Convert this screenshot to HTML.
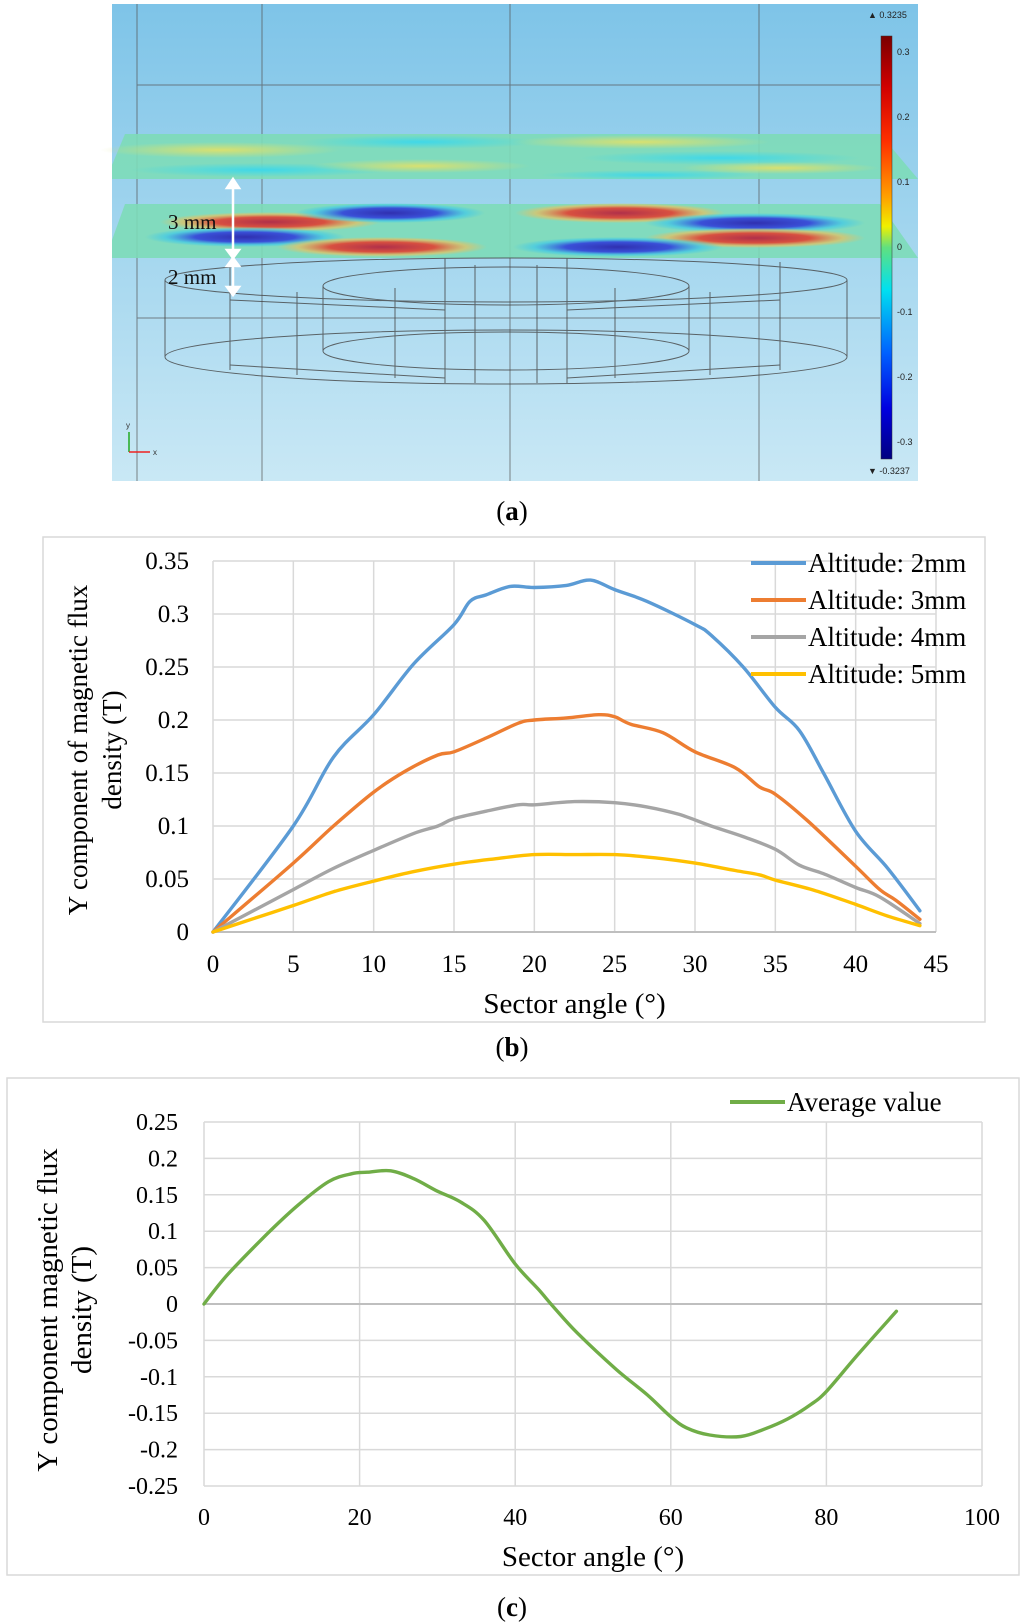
<!DOCTYPE html>
<html><head><meta charset="utf-8"><style>
html,body{margin:0;padding:0;background:#fff;}
svg{display:block;font-family:"Liberation Serif",serif;}
</style></head><body>
<svg id="root" width="1024" height="1622" viewBox="0 0 1024 1622">
<defs>
<linearGradient id="bg" x1="0" y1="0" x2="0" y2="1"><stop offset="0" stop-color="#7ec4e8"/><stop offset="1" stop-color="#c9e8f5"/></linearGradient>
<linearGradient id="cbar" x1="0" y1="0" x2="0" y2="1">
<stop offset="0" stop-color="#7a0000"/><stop offset="0.12" stop-color="#d00000"/><stop offset="0.25" stop-color="#ff3000"/><stop offset="0.38" stop-color="#ffa000"/><stop offset="0.45" stop-color="#f0f000"/><stop offset="0.5" stop-color="#60e080"/><stop offset="0.6" stop-color="#00e0f0"/><stop offset="0.75" stop-color="#0060ff"/><stop offset="0.88" stop-color="#0000e0"/><stop offset="1" stop-color="#000080"/></linearGradient>
<radialGradient id="red"><stop offset="0" stop-color="#b0304a"/><stop offset="0.5" stop-color="#d85040"/><stop offset="0.8" stop-color="#e8c060" stop-opacity="0.7"/><stop offset="1" stop-color="#e8c060" stop-opacity="0"/></radialGradient>
<radialGradient id="blue"><stop offset="0" stop-color="#3030b0"/><stop offset="0.5" stop-color="#3a50d8"/><stop offset="0.8" stop-color="#40c8e8" stop-opacity="0.7"/><stop offset="1" stop-color="#40c8e8" stop-opacity="0"/></radialGradient>
<radialGradient id="yel"><stop offset="0" stop-color="#d8e070"/><stop offset="1" stop-color="#d8e070" stop-opacity="0"/></radialGradient>
<radialGradient id="cyn"><stop offset="0" stop-color="#40d8e8"/><stop offset="1" stop-color="#40d8e8" stop-opacity="0"/></radialGradient>
</defs>

<!-- Panel (a) -->
<g>
<rect x="112" y="4" width="806" height="477" fill="url(#bg)"/>
<g stroke="#555" stroke-width="1" opacity="0.7">
<line x1="137" y1="4" x2="137" y2="481"/><line x1="262" y1="4" x2="262" y2="481"/>
<line x1="510" y1="4" x2="510" y2="481"/><line x1="759" y1="4" x2="759" y2="481"/>
<line x1="137" y1="85" x2="880" y2="85"/><line x1="137" y1="318" x2="880" y2="318"/>
</g>
<g>
<polygon points="125,134 880,134 918,179 112,179 112,165" fill="#7ddcb8" opacity="0.9"/>
<ellipse cx="220" cy="150" rx="120" ry="8" fill="url(#yel)"/>
<ellipse cx="420" cy="142" rx="120" ry="7" fill="url(#cyn)"/>
<ellipse cx="260" cy="170" rx="130" ry="7" fill="url(#cyn)"/>
<ellipse cx="420" cy="166" rx="110" ry="7" fill="url(#yel)"/>
<ellipse cx="640" cy="142" rx="130" ry="7" fill="url(#yel)"/>
<ellipse cx="720" cy="158" rx="140" ry="7" fill="url(#cyn)"/>
<ellipse cx="650" cy="175" rx="110" ry="5" fill="url(#cyn)"/>
<ellipse cx="780" cy="168" rx="100" ry="6" fill="url(#yel)"/>
</g>
<g>
<polygon points="125,204 880,204 918,258 112,258 112,240" fill="#7ddcb8" opacity="0.9"/>
<ellipse cx="270" cy="222" rx="110" ry="10" fill="url(#red)"/>
<ellipse cx="390" cy="213" rx="95" ry="10" fill="url(#blue)"/>
<ellipse cx="245" cy="237" rx="100" ry="10" fill="url(#blue)"/>
<ellipse cx="382" cy="247" rx="105" ry="10" fill="url(#red)"/>
<ellipse cx="620" cy="213" rx="105" ry="10" fill="url(#red)"/>
<ellipse cx="755" cy="223" rx="110" ry="10" fill="url(#blue)"/>
<ellipse cx="755" cy="238" rx="110" ry="10" fill="url(#red)"/>
<ellipse cx="618" cy="247" rx="105" ry="10" fill="url(#blue)"/>
</g>
<g fill="none" stroke="#444" stroke-width="1" opacity="0.8">
<ellipse cx="506" cy="280" rx="341" ry="22"/><ellipse cx="506" cy="357" rx="341" ry="27"/>
<ellipse cx="506" cy="286" rx="183" ry="19"/><ellipse cx="506" cy="351" rx="183" ry="19"/>
<line x1="165" y1="280" x2="165" y2="357"/><line x1="847" y1="280" x2="847" y2="357"/>
<line x1="323" y1="286" x2="323" y2="351"/><line x1="689" y1="286" x2="689" y2="351"/>
<line x1="445" y1="258" x2="445" y2="383"/><line x1="567" y1="258" x2="567" y2="383"/>
<line x1="297" y1="292" x2="297" y2="375"/><line x1="395" y1="288" x2="395" y2="378"/>
<line x1="615" y1="288" x2="615" y2="378"/><line x1="710" y1="292" x2="710" y2="375"/>
<line x1="230" y1="262" x2="230" y2="370"/><line x1="780" y1="262" x2="780" y2="370"/>
<line x1="475" y1="265" x2="475" y2="383"/><line x1="537" y1="265" x2="537" y2="383"/>
<line x1="230" y1="300" x2="445" y2="310"/><line x1="780" y1="300" x2="567" y2="310"/>
<line x1="230" y1="365" x2="445" y2="378"/><line x1="780" y1="365" x2="567" y2="378"/>
</g>
<g stroke="#fff" stroke-width="2.5" fill="#fff">
<line x1="233" y1="186" x2="233" y2="252"/><polygon points="227,188 239,188 233,179"/><polygon points="227,250 239,250 233,258"/>
<line x1="233" y1="264" x2="233" y2="289"/><polygon points="227,266 239,266 233,258"/><polygon points="227,287 239,287 233,295"/>
</g>
<text x="168" y="229" font-size="21" fill="#111">3 mm</text>
<text x="168" y="284" font-size="21" fill="#111">2 mm</text>
<g font-family="Liberation Sans,sans-serif" font-size="8">
<line x1="129" y1="452" x2="129" y2="432" stroke="#2a2" stroke-width="1.5"/><line x1="129" y1="452" x2="150" y2="452" stroke="#e22" stroke-width="1.5"/>
<text x="126" y="428" fill="#333">y</text><text x="153" y="455" fill="#333">x</text></g>
<g font-family="Liberation Sans,sans-serif" font-size="9" fill="#222">
<rect x="881" y="36" width="11" height="423" fill="url(#cbar)" stroke="#333" stroke-width="0.5"/>
<text x="868" y="18">▲ 0.3235</text><text x="868" y="474">▼ -0.3237</text>
<text x="897" y="55">0.3</text><text x="897" y="120">0.2</text><text x="897" y="185">0.1</text><text x="897" y="250">0</text>
<text x="897" y="315">-0.1</text><text x="897" y="380">-0.2</text><text x="897" y="445">-0.3</text>
</g>
</g>
<text x="512" y="520" font-size="27" text-anchor="middle">(<tspan font-weight="bold">a</tspan>)</text>

<!-- Chart (b) -->
<rect x="43" y="537" width="942" height="485" fill="#fff" stroke="#d9d9d9" stroke-width="1.5"/>
<g id="chartB"></g>
<text x="512" y="1056" font-size="27" text-anchor="middle">(<tspan font-weight="bold">b</tspan>)</text>

<!-- Chart (c) -->
<rect x="7" y="1078" width="1012" height="497" fill="#fff" stroke="#d9d9d9" stroke-width="1.5"/>
<g id="chartC"></g>
<text x="512" y="1616" font-size="27" text-anchor="middle">(<tspan font-weight="bold">c</tspan>)</text>
</svg>
<script>
const NS="http://www.w3.org/2000/svg";
// Chart B data
const bTicksX=[0,5,10,15,20,25,30,35,40,45];
const bTicksY=[0,0.05,0.1,0.15,0.2,0.25,0.3,0.35];
const bTickLabelsY=["0","0.05","0.1","0.15","0.2","0.25","0.3","0.35"];
const bSeriesNames=["Altitude: 2mm","Altitude: 3mm","Altitude: 4mm","Altitude: 5mm"];
const bColors=["#5b9bd5","#ed7d31","#a5a5a5","#ffc000"];
const b2x=[0,5,7.5,10,12.5,15,16,17,18.5,20,22,23.5,25,27,30,31,33,35,36.5,38,40,42,44];
const b2y=[0,0.1,0.165,0.205,0.253,0.29,0.312,0.318,0.326,0.325,0.327,0.332,0.323,0.312,0.29,0.28,0.25,0.212,0.19,0.15,0.095,0.06,0.02];
const b3x=[0,5,7.5,10,12,14,15,17,19,20,22,24,25,26,28,30,32.5,34,35,37,40,41.5,42.5,44];
const b3y=[0,0.065,0.1,0.132,0.152,0.167,0.17,0.183,0.197,0.2,0.202,0.205,0.203,0.196,0.188,0.17,0.155,0.137,0.13,0.105,0.062,0.04,0.03,0.012];
const b4x=[0,5,7.5,10,12.5,14,15,17,19,20,22.5,25,27,29,31,33,35,36.5,38,40,41.5,44];
const b4y=[0,0.04,0.06,0.077,0.093,0.1,0.107,0.114,0.12,0.12,0.123,0.122,0.118,0.111,0.1,0.09,0.078,0.063,0.055,0.042,0.033,0.008];
const b5x=[0,2,5,7.5,10,12.5,15,17.5,20,22.5,25,27.5,30,32.5,34,35,37.5,40,42,44];
const b5y=[0,0.01,0.025,0.038,0.048,0.057,0.064,0.069,0.073,0.073,0.073,0.07,0.065,0.058,0.054,0.049,0.039,0.026,0.015,0.006];
// Chart C data
const cTicksX=[0,20,40,60,80,100];
const cTicksY=[-0.25,-0.2,-0.15,-0.1,-0.05,0,0.05,0.1,0.15,0.2,0.25];
const cTickLabelsY=["-0.25","-0.2","-0.15","-0.1","-0.05","0","0.05","0.1","0.15","0.2","0.25"];
const cx=[0,3,8,12,16,19,21,24,27,30,33,36,40,43,45,48,53,57,60,62,65,69,72,75,78,80,84,89];
const cy=[0,0.04,0.095,0.135,0.168,0.179,0.181,0.183,0.172,0.155,0.14,0.115,0.055,0.02,-0.005,-0.04,-0.09,-0.125,-0.155,-0.17,-0.18,-0.182,-0.172,-0.158,-0.138,-0.12,-0.07,-0.01];
const cSeriesName="Average value";

function mk(parent,tag,attrs,text){const e=document.createElementNS(NS,tag);for(const k in attrs)e.setAttribute(k,attrs[k]);if(text!==undefined)e.textContent=text;parent.appendChild(e);return e;}

function smooth(pts){
  let d="M"+pts[0][0].toFixed(1)+","+pts[0][1].toFixed(1);
  for(let i=0;i<pts.length-1;i++){
    const p0=pts[Math.max(0,i-1)],p1=pts[i],p2=pts[i+1],p3=pts[Math.min(pts.length-1,i+2)];
    const c1=[p1[0]+(p2[0]-p0[0])/6,p1[1]+(p2[1]-p0[1])/6];
    const c2=[p2[0]-(p3[0]-p1[0])/6,p2[1]-(p3[1]-p1[1])/6];
    d+="C"+c1[0].toFixed(1)+","+c1[1].toFixed(1)+" "+c2[0].toFixed(1)+","+c2[1].toFixed(1)+" "+p2[0].toFixed(1)+","+p2[1].toFixed(1);
  }
  return d;
}

function chart(g,o){
  const X=v=>o.x0+(v-o.xmin)/(o.xmax-o.xmin)*(o.x1-o.x0);
  const Y=v=>o.y0-(v-o.ymin)/(o.ymax-o.ymin)*(o.y0-o.y1);
  o.tx.forEach(t=>{const l=mk(g,"line",{x1:X(t),x2:X(t),y1:o.y1,y2:o.y0,stroke:"#d9d9d9","stroke-width":1.5});
    
    
    const tx=mk(g,"text",{x:X(t),y:o.xlY,"font-size":o.tfs,"text-anchor":"middle"},String(t));
    
    });
  o.ty.forEach((t,i)=>{const l=mk(g,"line",{x1:o.x0,x2:o.x1,y1:Y(t),y2:Y(t),stroke:t===0?"#bfbfbf":"#d9d9d9","stroke-width":t===0?2:1.5});
    
    
    const tx=mk(g,"text",{x:o.ylX,y:Y(t)+8,"font-size":o.tfs,"text-anchor":"end"},o.tyl[i]);
    
    });
  o.series.forEach(s=>{const pts=s.x.map((v,i)=>[X(v),Y(s.y[i])]);
    const p=mk(g,"path",{d:smooth(pts),fill:"none",stroke:s.c,"stroke-width":3.4,"stroke-linejoin":"round","stroke-linecap":"round"});
    
    });
  const xt=mk(g,"text",{x:(o.x0+o.x1)/2,y:o.xtY,"font-size":29,"text-anchor":"middle"},"Sector angle (°)");
  
  
  const yt=mk(g,"text",{transform:"translate("+o.ytX+","+o.ytY+") rotate(-90)","font-size":o.yfs,"text-anchor":"middle"});
  
  
  mk(yt,"tspan",{x:0,y:0},o.yt[0]);mk(yt,"tspan",{x:0,y:34},o.yt[1]);
  o.legend.forEach((lg,i)=>{const y=o.lgY+i*o.lgDy;
    const l=mk(g,"line",{x1:o.lgX,x2:o.lgX+55,y1:y,y2:y,stroke:lg.c,"stroke-width":4});
    
    
    const t=mk(g,"text",{x:o.lgX+57,y:y+9,"font-size":27},lg.name);
    
    });
}
const bs=[[b2x,b2y],[b3x,b3y],[b4x,b4y],[b5x,b5y]].map((a,i)=>({x:a[0],y:a[1],c:bColors[i],name:"series-altitude-"+(i+2)+"mm"}));
chart(document.getElementById("chartB"),{x0:213,x1:936,y0:932,y1:561,xmin:0,xmax:45,ymin:0,ymax:0.35,tx:bTicksX,ty:bTicksY,tyl:bTickLabelsY,tfs:25,yfs:27,
 xlY:972,ylX:189,xtY:1013,ytX:87,ytY:750,yt:["Y component of magnetic flux","density (T)"],series:bs,
 legend:bSeriesNames.map((n,i)=>({name:n,c:bColors[i]})),lgX:751,lgY:563,lgDy:37});
chart(document.getElementById("chartC"),{x0:204,x1:982,y0:1486,y1:1122,xmin:0,xmax:100,ymin:-0.25,ymax:0.25,tx:cTicksX,ty:cTicksY,tyl:cTickLabelsY,tfs:24,yfs:29,
 xlY:1525,ylX:178,xtY:1566,ytX:57,ytY:1310,yt:["Y component magnetic flux","density (T)"],series:[{x:cx,y:cy,c:"#70ad47",name:"series-average-value"}],
 legend:[{name:cSeriesName,c:"#70ad47"}],lgX:730,lgY:1102,lgDy:0});
</script>
</body></html>
